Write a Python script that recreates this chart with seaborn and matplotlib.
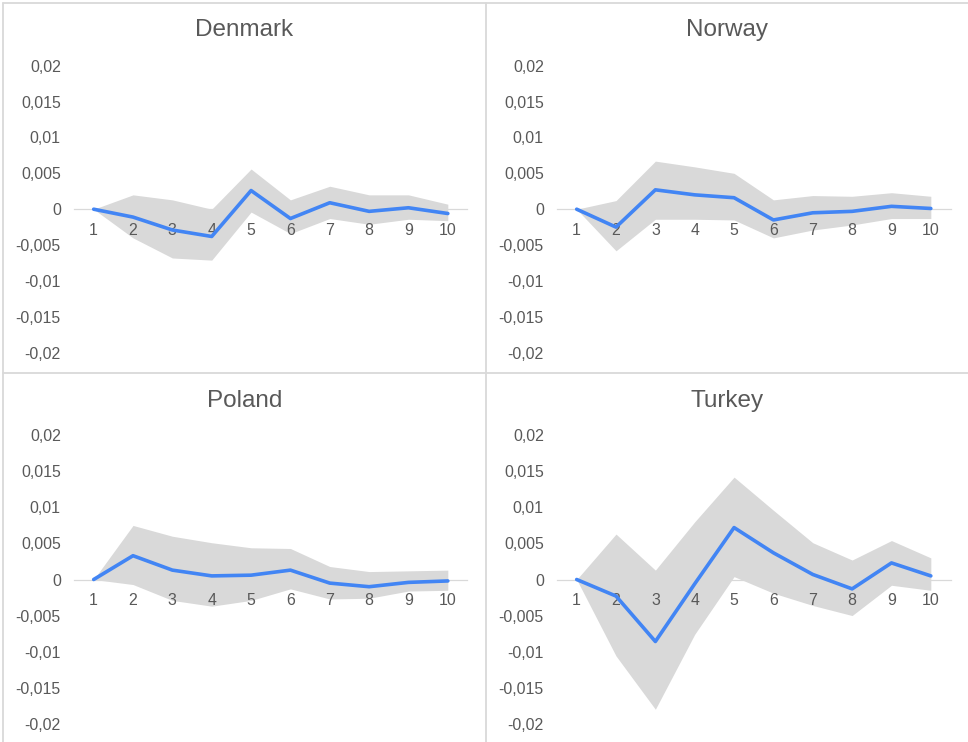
import numpy as np
import pandas as pd
import matplotlib
matplotlib.use("Agg")
import matplotlib.pyplot as plt
import seaborn as sns
from matplotlib.lines import Line2D

# ---------------- data ----------------
periods = [1, 2, 3, 4, 5, 6, 7, 8, 9, 10]
countries = ["Denmark", "Norway", "Poland", "Turkey"]

denmark_irf   = [0.0, -0.0011, -0.0029, -0.0038, 0.0026, -0.0013, 0.0009, -0.0003, 0.0002, -0.0006]
denmark_upper = [0.0, 0.0020, 0.0013, 0.0000, 0.0056, 0.0013, 0.0032, 0.0020, 0.0020, 0.0007]
denmark_lower = [0.0, -0.0040, -0.0068, -0.0071, -0.0004, -0.0034, -0.0013, -0.0021, -0.0014, -0.0016]

norway_irf   = [0.0, -0.0025, 0.0027, 0.0020, 0.0016, -0.0015, -0.0005, -0.0003, 0.0004, 0.0001]
norway_upper = [0.0, 0.0012, 0.0067, 0.0059, 0.0050, 0.0013, 0.0019, 0.0018, 0.0023, 0.0018]
norway_lower = [0.0, -0.0058, -0.0014, -0.0014, -0.0015, -0.0040, -0.0029, -0.0022, -0.0013, -0.0013]

poland_irf   = [0.0, 0.0033, 0.0013, 0.0005, 0.0006, 0.0013, -0.0005, -0.0010, -0.0004, -0.0002]
poland_upper = [0.0, 0.0075, 0.0060, 0.0051, 0.0044, 0.0043, 0.0018, 0.0011, 0.0012, 0.0013]
poland_lower = [0.0, -0.0007, -0.0029, -0.0037, -0.0029, -0.0013, -0.0027, -0.0026, -0.0016, -0.0015]

turkey_irf   = [0.0, -0.0023, -0.0086, -0.0006, 0.0072, 0.0037, 0.0007, -0.0013, 0.0023, 0.0005]
turkey_upper = [0.0, 0.0063, 0.0013, 0.0080, 0.0142, 0.0096, 0.0051, 0.0027, 0.0054, 0.0030]
turkey_lower = [0.0, -0.0106, -0.0180, -0.0076, 0.0004, -0.0019, -0.0036, -0.0050, -0.0008, -0.0015]

ytick_values = [-0.02, -0.015, -0.01, -0.005, 0.0, 0.005, 0.01, 0.015, 0.02]
ytick_labels = ["-0,02", "-0,015", "-0,01", "-0,005", "0", "0,005", "0,01", "0,015", "0,02"]
xtick_labels = ["1", "2", "3", "4", "5", "6", "7", "8", "9", "10"]

series = {
    "Denmark": (denmark_irf, denmark_lower, denmark_upper),
    "Norway": (norway_irf, norway_lower, norway_upper),
    "Poland": (poland_irf, poland_lower, poland_upper),
    "Turkey": (turkey_irf, turkey_lower, turkey_upper),
}

rows = []
for c in countries:
    irf, lo, hi = series[c]
    for p, v, l, h in zip(periods, irf, lo, hi):
        rows.append({"country": c, "period": p, "irf": v, "lower": l, "upper": h})
df = pd.DataFrame(rows)

# ---------------- style ----------------
sns.set_theme(style="white")
plt.rcParams["font.family"] = ["Liberation Sans", "DejaVu Sans"]

W, H = 968, 742
fig = plt.figure(figsize=(W / 100, H / 100), dpi=100)
fig.patch.set_facecolor("white")

TEXT = "#595959"
GRID = "#d9d9d9"
BAND = "#d9d9d9"
LINE = "#4285f4"

# panel pixel geometry: (x0, x1, ytop, ybottom, title center x, title center y)
layout = {
    "Denmark": (74, 467.5, 65.7, 352.7, 244.5, 30),
    "Norway": (557, 950.5, 65.7, 352.7, 727, 30),
    "Poland": (74, 467.5, 435.3, 723.7, 244.5, 401),
    "Turkey": (557, 950.5, 435.3, 723.7, 727, 401),
}

for c in countries:
    x0, x1, yt, yb, tx, ty = layout[c]
    ax = fig.add_axes([x0 / W, 1 - yb / H, (x1 - x0) / W, (yb - yt) / H])
    ax.set_facecolor("none")
    ax.set_axisbelow(False)
    sub = df[df["country"] == c]
    ax.fill_between(sub["period"], sub["lower"], sub["upper"], color=BAND, linewidth=0, zorder=1)
    sns.lineplot(data=sub, x="period", y="irf", ax=ax, color=LINE, linewidth=2.6, zorder=3)
    ax.set_xlim(0.5, 10.5)
    ax.set_ylim(-0.02, 0.02)
    ax.set_yticks(ytick_values)
    ax.set_yticklabels(ytick_labels)
    ax.set_xticks(periods)
    ax.set_xticklabels(xtick_labels)
    ax.set_xlabel("")
    ax.set_ylabel("")
    for s in ("left", "top", "right"):
        ax.spines[s].set_visible(False)
    ax.spines["bottom"].set_position(("data", 0))
    ax.spines["bottom"].set_color(GRID)
    ax.spines["bottom"].set_linewidth(0.9)
    ax.spines["bottom"].set_zorder(0.5)
    ax.tick_params(axis="x", length=0, pad=10, labelsize=11.4, labelcolor=TEXT)
    ax.tick_params(axis="y", length=0, pad=9.5, labelsize=11.4, labelcolor=TEXT)
    ax.grid(False)
    fig.text(tx / W, 1 - ty / H, c, ha="center", va="center", fontsize=17.5, color=TEXT)

# panel borders
bc = "#d9d9d9"
lw = 1.3
fig.add_artist(Line2D([3 / W, 3 / W], [0, 1 - 3 / H], color=bc, lw=lw))
fig.add_artist(Line2D([3 / W, 1], [1 - 3 / H, 1 - 3 / H], color=bc, lw=lw))
fig.add_artist(Line2D([486 / W, 486 / W], [0, 1 - 3 / H], color=bc, lw=lw))
fig.add_artist(Line2D([3 / W, 1], [1 - 373 / H, 1 - 373 / H], color=bc, lw=lw))

fig.savefig("out.png", dpi=100, facecolor="white")
